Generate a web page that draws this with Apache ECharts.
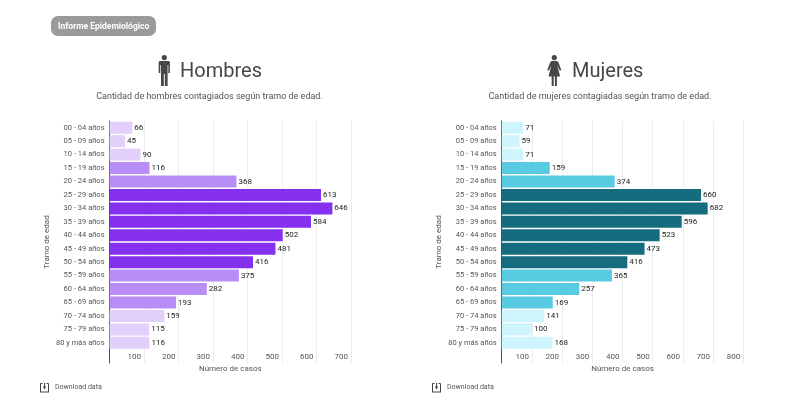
<!DOCTYPE html>
<html><head><meta charset="utf-8">
<style>html,body{margin:0;padding:0;background:#fff}#c{width:800px;height:394px}</style>
<script src="https://cdn.jsdelivr.net/npm/echarts@6/dist/echarts.min.js"></script>
</head><body><div id="c"></div>
<script>
const ageGroups = ['00 - 04 años','05 - 09 años','10 - 14 años','15 - 19 años','20 - 24 años','25 - 29 años','30 - 34 años','35 - 39 años','40 - 44 años','45 - 49 años','50 - 54 años','55 - 59 años','60 - 64 años','65 - 69 años','70 - 74 años','75 - 79 años','80 y más años'];
const menCases = [66,45,90,116,368,613,646,584,502,481,416,375,282,193,159,115,116];
const womenCases = [71,59,71,159,374,660,682,596,523,473,416,365,257,169,141,100,168];
const menColors = ['#e2d0fa','#e2d0fa','#e2d0fa','#b98df6','#b98df6','#8430ee','#8430ee','#8430ee','#8430ee','#8430ee','#8430ee','#b98df6','#b98df6','#b98df6','#e2d0fa','#e2d0fa','#e2d0fa'];
const womenColors = ['#cef5fd','#cef5fd','#cef5fd','#58cbe3','#58cbe3','#146c7e','#146c7e','#146c7e','#146c7e','#146c7e','#146c7e','#58cbe3','#58cbe3','#58cbe3','#cef5fd','#cef5fd','#cef5fd'];
const xMaxMen = 700, xMaxWomen = 800;

const FONT = 'Roboto';
const GREY = '#555555';
const ICON = '#474747';
const yCats = ageGroups.concat(['']);
const toData = (v, c) => v.map((d, i) => ({value: d, itemStyle: {color: c[i]}})).concat([null]);

function axes(left, width, max, gi) {
  return {
    grid: {left, top: 121, width, height: 242, containLabel: false},
    x: {
      type: 'value', gridIndex: gi, min: 0, max, interval: 100, position: 'bottom',
      name: 'Número de casos', nameLocation: 'middle', nameGap: 2, nameMoveOverlap: false,
      nameTextStyle: {fontFamily: FONT, fontSize: 8, color: GREY},
      axisLine: {show: false}, axisTick: {show: false},
      axisLabel: {inside: true, margin: 2, align: 'right', padding: [0, 3, 0, 0], showMinLabel: false, fontFamily: FONT, fontSize: 8, color: GREY},
      splitLine: {show: true, lineStyle: {color: '#ececec', width: 1}}
    },
    y: {
      type: 'category', gridIndex: gi, inverse: true, data: yCats,
      name: 'Tramo de edad', nameLocation: 'middle', nameGap: 59,
      nameTextStyle: {fontFamily: FONT, fontSize: 8, color: GREY},
      axisLine: {show: true, lineStyle: {color: '#4d4d55', width: 1}}, axisTick: {show: false},
      axisLabel: {interval: 0, margin: 5, fontFamily: FONT, fontSize: 7.5, color: GREY},
      splitLine: {show: false}
    }
  };
}
const a = axes(109.5, 241.5, xMaxMen, 0);
const b = axes(501.7, 241.6, xMaxWomen, 1);

function bars(vals, cols, gi) {
  return {
    type: 'bar', xAxisIndex: gi, yAxisIndex: gi, data: toData(vals, cols), barWidth: 12,
    label: {show: true, position: 'right', distance: 2, fontFamily: FONT, fontSize: 8, color: '#222'},
    silent: true, animation: false
  };
}
function txt(x, y, text, size, color, extra) {
  return {type: 'text', x, y, silent: true, style: Object.assign({text, fontFamily: FONT, fontSize: size, fill: color, verticalAlign: 'middle'}, extra || {})};
}
function poly(x, y, points, fill) {
  return {type: 'polygon', x, y, silent: true, shape: {points}, style: {fill}};
}
function circ(cx, cy, r, fill) {
  return {type: 'circle', silent: true, shape: {cx, cy, r}, style: {fill}};
}
function manIcon(x, y) {
  return [
    circ(x + 6, y + 2.6, 2.6, ICON),
    poly(x, y, [[1.4,6],[10.6,6],[11.6,7],[11.6,18],[10,18],[10,10],[9.3,10],[9.3,31],[6.5,31],[6.5,19],[5.5,19],[5.5,31],[2.7,31],[2.7,10],[2,10],[2,18],[0.4,18],[0.4,7]], ICON)
  ];
}
function womanIcon(x, y) {
  return [
    circ(x + 7, y + 2.6, 2.6, ICON),
    poly(x, y, [[4.5,6],[9.5,6],[11,7],[14,15],[12.5,15.7],[10,10.5],[12.8,21.5],[9.6,21.5],[9.6,31],[7.6,31],[7.6,21.5],[6.4,21.5],[6.4,31],[4.4,31],[4.4,21.5],[1.2,21.5],[4,10.5],[1.5,15.7],[0,15],[3,7]], ICON)
  ];
}
function dlIcon(x, y) {
  const line = (x1, y1, x2, y2) => ({type: 'line', silent: true, shape: {x1: x + x1, y1: y + y1, x2: x + x2, y2: y + y2}, style: {stroke: '#444', lineWidth: 1}});
  return [
    line(0.5, 0.5, 0.5, 9), line(0, 9, 9, 9), line(8.5, 0.5, 8.5, 9),
    line(0.5, 0.5, 2.5, 0.5), line(6.5, 0.5, 8.5, 0.5), line(4.5, 0, 4.5, 4),
    poly(x, y, [[2.8,3.6],[6.2,3.6],[4.5,6.4]], '#444')
  ];
}
const graphic = [
  {type: 'rect', silent: true, shape: {x: 51, y: 16, width: 105, height: 20, r: 7}, style: {fill: '#9a9a9a'}},
  txt(58, 26.5, 'Informe Epidemiológico', 8.5, '#fff', {fontWeight: 'bold'}),
  txt(180, 71.5, 'Hombres', 20, ICON),
  txt(572, 71.5, 'Mujeres', 20, ICON),
  txt(209.5, 97, 'Cantidad de hombres contagiados según tramo de edad.', 9, GREY, {align: 'center'}),
  txt(600, 97, 'Cantidad de mujeres contagiadas según tramo de edad.', 9, GREY, {align: 'center'}),
  ...manIcon(158.3, 55),
  ...womanIcon(547.3, 55),
  ...dlIcon(40, 383),
  ...dlIcon(432, 383),
  txt(55, 387.5, 'Download data', 7, GREY),
  txt(447, 387.5, 'Download data', 7, GREY)
];
const chart = echarts.init(document.getElementById('c'), null, {renderer: 'canvas'});
chart.setOption({
  animation: false, backgroundColor: '#fff', tooltip: {show: false},
  grid: [a.grid, b.grid], xAxis: [a.x, b.x], yAxis: [a.y, b.y],
  series: [bars(menCases, menColors, 0), bars(womenCases, womenColors, 1)],
  graphic
});
</script></body></html>
